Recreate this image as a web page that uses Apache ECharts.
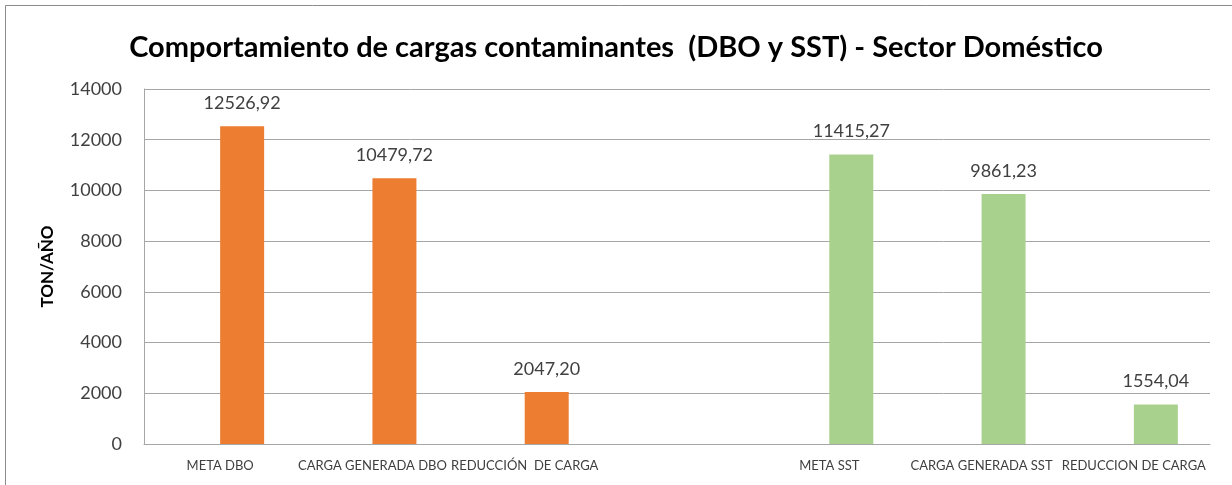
<!DOCTYPE html>
<html>
<head>
<meta charset="utf-8">
<title>Comportamiento de cargas contaminantes</title>
<script src="https://cdn.jsdelivr.net/npm/echarts@6/dist/echarts.min.js"></script>
<style>
  html, body { margin: 0; padding: 0; background: #fff; }
  #chart { width: 1232px; height: 485px; }
</style>
</head>
<body>
<div id="chart"></div>
<script>
// categorías del eje X (la cuarta queda vacía como separador)
const categories = ['META DBO', 'CARGA GENERADA DBO', 'REDUCCIÓN  DE CARGA', '', 'META SST', 'CARGA GENERADA SST', 'REDUCCION DE CARGA']
// valores en TON/AÑO
const dboValues = [12526.92, 10479.72, 2047.20, '-', '-', '-', '-']
const sstValues = ['-', '-', '-', '-', 11415.27, 9861.23, 1554.04]
const yTicks = { min: 0, max: 14000, interval: 2000 }

const FONT = 'Lato, "Open Sans", sans-serif'
const txt = '#404040'
const gridColor = '#a6a6a6'

const fmt = (v) => Number(v).toFixed(2).replace('.', ',')

const chart = echarts.init(document.getElementById('chart'))

const barLabel = {
  show: true,
  position: 'top',
  distance: 14,
  color: txt,
  fontFamily: FONT,
  fontSize: 18,
  formatter: (p) => fmt(p.value)
}

chart.setOption({
  animation: false,
  textStyle: { fontFamily: FONT },
  title: {
    text: 'Comportamiento de cargas contaminantes  (DBO y SST) - Sector Doméstico',
    left: 'center',
    top: 28,
    textStyle: { fontFamily: FONT, fontSize: 29, fontWeight: 'bold', color: '#000' }
  },
  graphic: [
    {
      type: 'rect',
      shape: { x: 5.5, y: 5.5, width: 1240, height: 500 },
      style: { fill: 'none', stroke: '#8c8c8c', lineWidth: 1 },
      silent: true
    }
  ],
  grid: { left: 144, right: 22, top: 89, bottom: 41 },
  xAxis: {
    type: 'category',
    data: categories,
    axisLine: { lineStyle: { color: gridColor } },
    axisTick: { show: false },
    axisLabel: { interval: 0, color: txt, fontSize: 13, margin: 15, fontFamily: FONT }
  },
  yAxis: {
    type: 'value',
    min: yTicks.min,
    max: yTicks.max,
    interval: yTicks.interval,
    name: 'TON/AÑO',
    nameLocation: 'middle',
    nameGap: 88,
    nameTextStyle: { fontFamily: FONT, fontSize: 17, fontWeight: 'bold', color: '#000' },
    axisLine: { show: true, lineStyle: { color: gridColor } },
    axisTick: { show: false },
    axisLabel: { color: txt, fontSize: 18, margin: 22, fontFamily: FONT, formatter: (v) => String(v) },
    splitLine: { lineStyle: { color: gridColor } }
  },
  series: [
    // serie vacía para desplazar las barras a la derecha del centro de la categoría
    { type: 'bar', data: [], barWidth: 44, barGap: 0 },
    {
      name: 'DBO',
      type: 'bar',
      stack: 'carga',
      data: dboValues,
      barWidth: 44,
      barGap: 0,
      itemStyle: { color: '#ed7d31' },
      label: barLabel
    },
    {
      name: 'SST',
      type: 'bar',
      stack: 'carga',
      data: sstValues,
      barWidth: 44,
      barGap: 0,
      itemStyle: { color: '#a9d18e' },
      label: barLabel
    }
  ]
})
</script>
</body>
</html>
